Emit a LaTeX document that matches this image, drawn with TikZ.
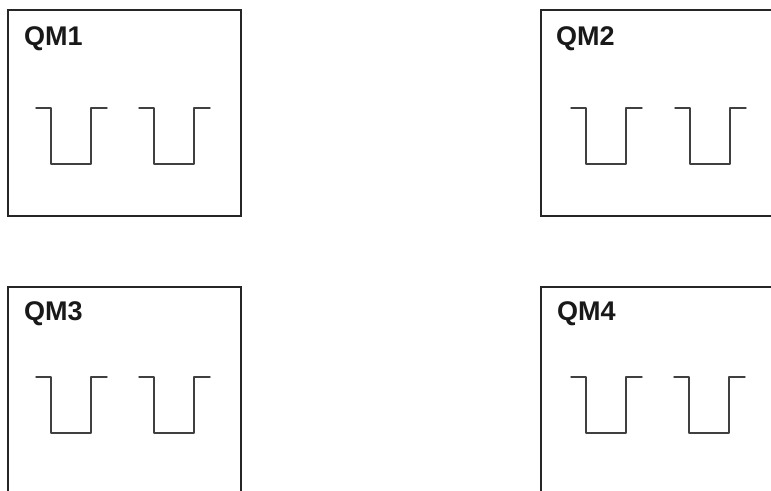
\documentclass[tikz,border=0pt]{standalone}
\usepackage{fontspec}
\setmainfont{Liberation Sans}
\begin{document}
\begin{tikzpicture}[x=1pt,y=-1pt,
  qmbox/.style={draw=black!85,line width=1.4pt,minimum width=233pt,minimum height=206pt,anchor=north west,inner sep=0pt,outer sep=0pt},
  qmlabel/.style={anchor=base west,font=\fontsize{27}{30}\selectfont\bfseries,inner sep=0pt,text=black!90},
  qline/.style={draw=black!75,line width=1.4pt,line join=round,line cap=round},
  queue/.pic={\draw[qline] (0,0) -- (15,0) -- (15,56) -- (55,56) -- (55,0) -- (71,0);}]
\useasboundingbox (0,0) rectangle (771,490);
\clip (0,0) rectangle (771,490);
\node[qmbox] (b1) at (8,10) {};
\node[qmbox] (b2) at (541,10) {};
\node[qmbox] (b3) at (8,287) {};
\node[qmbox] (b4) at (541,287) {};
\node[qmlabel] (l1) at (24,45) {QM1};
\node[qmlabel] (l2) at (556,45) {QM2};
\node[qmlabel] (l3) at (24,320) {QM3};
\node[qmlabel] (l4) at (557,320) {QM4};
\pic at (36,108) {queue};
\pic at (139,108) {queue};
\pic at (571,108) {queue};
\pic at (675,108) {queue};
\pic at (36,377) {queue};
\pic at (139,377) {queue};
\pic at (571,377) {queue};
\pic at (674,377) {queue};
\end{tikzpicture}
\end{document}
